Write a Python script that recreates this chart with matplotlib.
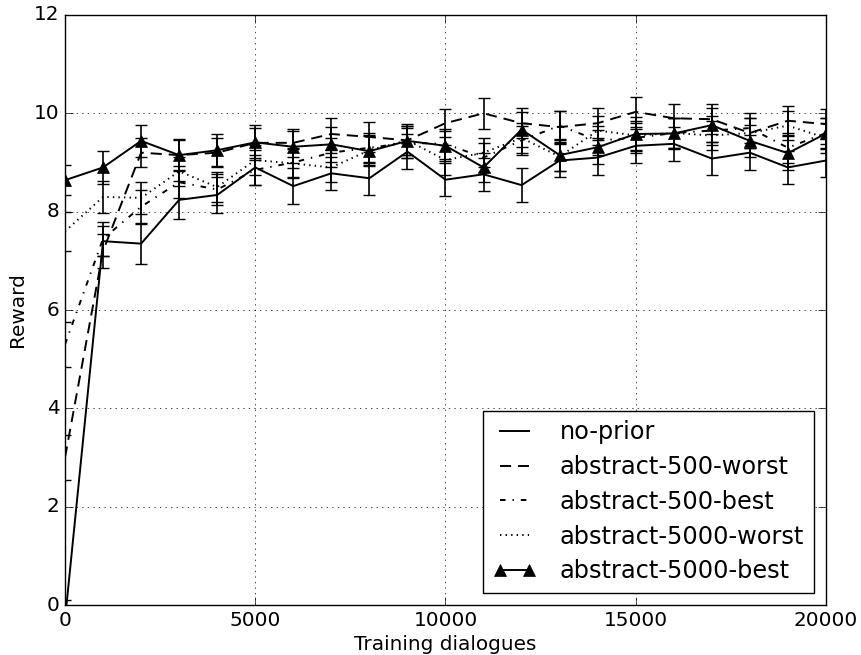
import matplotlib
matplotlib.use('Agg')
import matplotlib.pyplot as plt

plt.style.use('classic')

dialogues = [0, 1000, 2000, 3000, 4000, 5000, 6000, 7000, 8000, 9000, 10000,
             11000, 12000, 13000, 14000, 15000, 16000, 17000, 18000, 19000, 20000]

no_prior = [-0.3, 7.40, 7.35, 8.24, 8.34, 8.90, 8.52, 8.78, 8.68, 9.22, 8.65,
            8.76, 8.54, 9.04, 9.10, 9.34, 9.38, 9.08, 9.20, 8.90, 9.04]
no_prior_err = [0.40, 0.30, 0.41, 0.38, 0.36, 0.35, 0.36, 0.33, 0.34, 0.35, 0.34,
                0.33, 0.34, 0.33, 0.35, 0.34, 0.34, 0.33, 0.35, 0.33, 0.34]

abs500_worst = [3.0, 7.2, 9.2, 9.15, 9.2, 9.4, 9.4, 9.58, 9.52, 9.45, 9.8,
                10.0, 9.8, 9.72, 9.8, 10.03, 9.9, 9.88, 9.6, 9.85, 9.78]
abs500_worst_err = [0.45, 0.35, 0.30, 0.30, 0.30, 0.30, 0.28, 0.32, 0.30, 0.30, 0.28,
                    0.32, 0.30, 0.32, 0.30, 0.30, 0.30, 0.30, 0.30, 0.30, 0.30]

abs500_best = [5.3, 7.45, 8.1, 8.6, 8.45, 8.85, 9.0, 9.2, 9.3, 9.4, 9.38,
               9.1, 9.45, 9.75, 9.45, 9.5, 9.6, 9.65, 9.7, 9.3, 9.6]
abs500_best_err = [0.45, 0.35, 0.35, 0.32, 0.32, 0.30, 0.30, 0.30, 0.30, 0.30, 0.30,
                   0.30, 0.30, 0.30, 0.30, 0.30, 0.30, 0.30, 0.30, 0.30, 0.30]

abs5000_worst = [7.6, 8.3, 8.28, 8.82, 8.5, 9.05, 8.98, 8.9, 9.25, 9.45, 9.05,
                 9.2, 9.5, 9.12, 9.65, 9.55, 9.6, 9.55, 9.6, 9.75, 9.5]
abs5000_worst_err = [0.40, 0.32, 0.32, 0.30, 0.30, 0.30, 0.30, 0.30, 0.30, 0.30, 0.30,
                     0.30, 0.30, 0.30, 0.30, 0.30, 0.30, 0.30, 0.30, 0.30, 0.30]

abs5000_best = [8.64, 8.9, 9.44, 9.15, 9.25, 9.41, 9.32, 9.37, 9.23, 9.44, 9.34,
                8.9, 9.67, 9.15, 9.31, 9.58, 9.59, 9.76, 9.44, 9.19, 9.59]
abs5000_best_err = [0.30, 0.34, 0.32, 0.32, 0.32, 0.35, 0.32, 0.35, 0.30, 0.35, 0.30,
                    0.30, 0.35, 0.32, 0.35, 0.35, 0.32, 0.35, 0.32, 0.35, 0.32]

fig = plt.figure(figsize=(8.61, 6.55), dpi=100, facecolor='white')
ax = fig.add_axes([0.0755, 0.0763, 0.8838, 0.9008])

# name, values, errors, marker, dash pattern (None = solid)
series = [
    ('no-prior', no_prior, no_prior_err, 'None', None),
    ('abstract-500-worst', abs500_worst, abs500_worst_err, 'None', (8, 5)),
    ('abstract-500-best', abs500_best, abs500_best_err, 'None', (4, 5, 1, 5)),
    ('abstract-5000-worst', abs5000_worst, abs5000_worst_err, 'None', (1, 3)),
    ('abstract-5000-best', abs5000_best, abs5000_best_err, '^', None),
]

handles = []
for name, vals, errs, mk, dash in series:
    cont = ax.errorbar(dialogues, vals, yerr=errs, color='black', ecolor='black',
                       linewidth=1.4, elinewidth=1.2, capsize=4, capthick=1.0,
                       marker=mk, markersize=8,
                       markeredgecolor='black', markerfacecolor='black')
    line = cont.lines[0]
    if dash is not None:
        line.set_dashes(dash)
    line.set_label(name)
    handles.append(line)

ax.set_xlim(0, 20000)
ax.set_ylim(0, 12)
ax.set_xticks([0, 5000, 10000, 15000, 20000])
ax.set_yticks([0, 2, 4, 6, 8, 10, 12])
ax.tick_params(labelsize=14.4, direction='in', length=6)
ax.grid(True, linestyle=':', color='black')
ax.set_xlabel('Training dialogues', fontsize=14.4, labelpad=4)
ax.set_ylabel('Reward', fontsize=14.4)

ax.legend(handles=handles, loc='lower right', fontsize=17.3, numpoints=2,
          fancybox=False, borderaxespad=0.5, handlelength=1.8,
          handletextpad=1.0, labelspacing=0.45)

fig.savefig('out.png', dpi=100, facecolor='white')
